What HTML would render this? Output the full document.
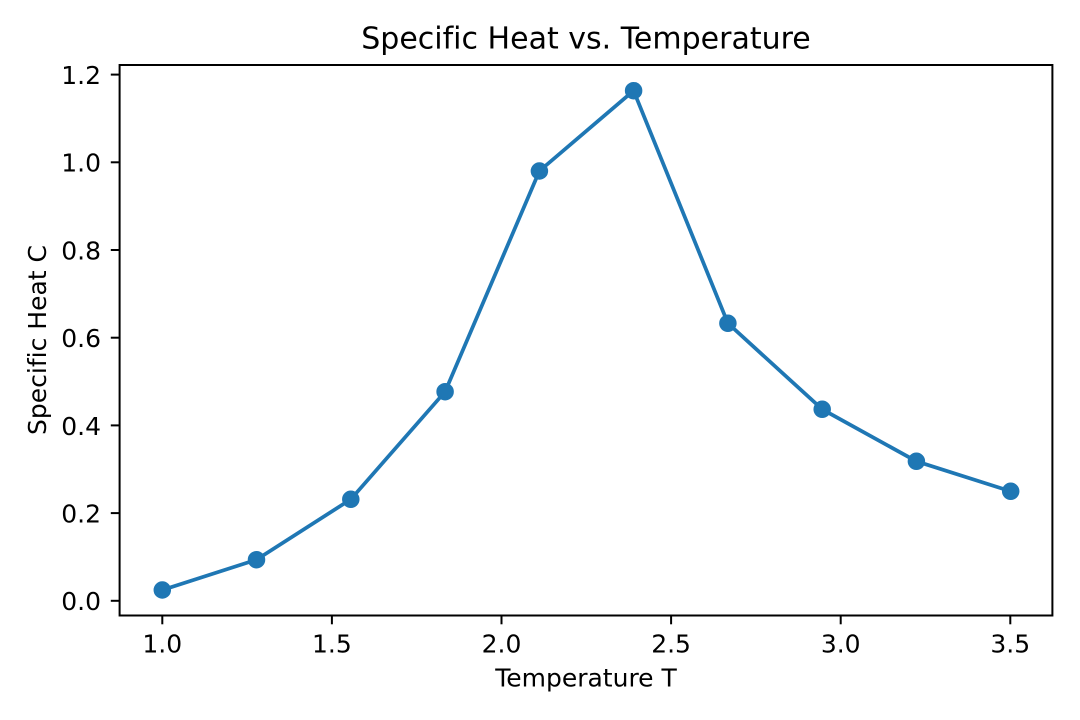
<!DOCTYPE html>
<html>
<head>
<meta charset="utf-8">
<style>
  html, body { margin: 0; padding: 0; background: #fff; }
  svg { display: block; }
  text { font-family: "DejaVu Sans", "Liberation Sans", sans-serif; fill: #000; font-variant-ligatures: none; font-feature-settings: "liga" 0; }
</style>
</head>
<body>
<svg width="1080" height="720" viewBox="0 0 1080 720" xmlns="http://www.w3.org/2000/svg">
  <rect x="0" y="0" width="1080" height="720" fill="#fff"/>

  <!-- Title -->
  <text x="586" y="48.5" font-size="30" text-anchor="middle">Specific Heat vs. Temperature</text>

  <!-- Series line -->
  <polyline fill="none" stroke="#1f77b4" stroke-width="3.75" stroke-linejoin="round" stroke-linecap="square"
    points="162.3,590 256.5,559.7 350.8,499.3 445.1,391.7 539.4,171 633.6,90.7 727.9,323.3 822.2,409.3 916.4,461.3 1010.7,491.3"/>
  <g fill="#1f77b4" stroke="#1f77b4" stroke-width="2.5">
    <circle cx="162.3" cy="590" r="7.5"/>
    <circle cx="256.5" cy="559.7" r="7.5"/>
    <circle cx="350.8" cy="499.3" r="7.5"/>
    <circle cx="445.1" cy="391.7" r="7.5"/>
    <circle cx="539.4" cy="171" r="7.5"/>
    <circle cx="633.6" cy="90.7" r="7.5"/>
    <circle cx="727.9" cy="323.3" r="7.5"/>
    <circle cx="822.2" cy="409.3" r="7.5"/>
    <circle cx="916.4" cy="461.3" r="7.5"/>
    <circle cx="1010.7" cy="491.3" r="7.5"/>
  </g>

  <!-- Axes frame -->
  <rect x="119.6" y="65" width="932.8" height="550.5" fill="none" stroke="#000" stroke-width="2" stroke-linejoin="miter"/>

  <!-- X ticks -->
  <g stroke="#000" stroke-width="2">
    <line x1="162.3" y1="615.5" x2="162.3" y2="624.3"/>
    <line x1="331.9" y1="615.5" x2="331.9" y2="624.3"/>
    <line x1="501.5" y1="615.5" x2="501.5" y2="624.3"/>
    <line x1="671.1" y1="615.5" x2="671.1" y2="624.3"/>
    <line x1="840.7" y1="615.5" x2="840.7" y2="624.3"/>
    <line x1="1010.3" y1="615.5" x2="1010.3" y2="624.3"/>
  </g>
  <g font-size="25" text-anchor="middle">
    <text x="162.3" y="652.5">1.0</text>
    <text x="331.9" y="652.5">1.5</text>
    <text x="501.5" y="652.5">2.0</text>
    <text x="671.1" y="652.5">2.5</text>
    <text x="840.7" y="652.5">3.0</text>
    <text x="1010.3" y="652.5">3.5</text>
  </g>
  <text x="586" y="686.7" font-size="25" text-anchor="middle">Temperature T</text>

  <!-- Y ticks -->
  <g stroke="#000" stroke-width="2">
    <line x1="110.8" y1="600.8" x2="119.6" y2="600.8"/>
    <line x1="110.8" y1="513.1" x2="119.6" y2="513.1"/>
    <line x1="110.8" y1="425.4" x2="119.6" y2="425.4"/>
    <line x1="110.8" y1="337.7" x2="119.6" y2="337.7"/>
    <line x1="110.8" y1="250.0" x2="119.6" y2="250.0"/>
    <line x1="110.8" y1="162.3" x2="119.6" y2="162.3"/>
    <line x1="110.8" y1="74.6" x2="119.6" y2="74.6"/>
  </g>
  <g font-size="25" text-anchor="end">
    <text x="101" y="610.2">0.0</text>
    <text x="101" y="522.5">0.2</text>
    <text x="101" y="434.8">0.4</text>
    <text x="101" y="347.1">0.6</text>
    <text x="101" y="259.4">0.8</text>
    <text x="101" y="171.7">1.0</text>
    <text x="101" y="84.0">1.2</text>
  </g>
  <text transform="translate(46,340) rotate(-90)" font-size="25" text-anchor="middle">Specific Heat C</text>
</svg>
</body>
</html>
